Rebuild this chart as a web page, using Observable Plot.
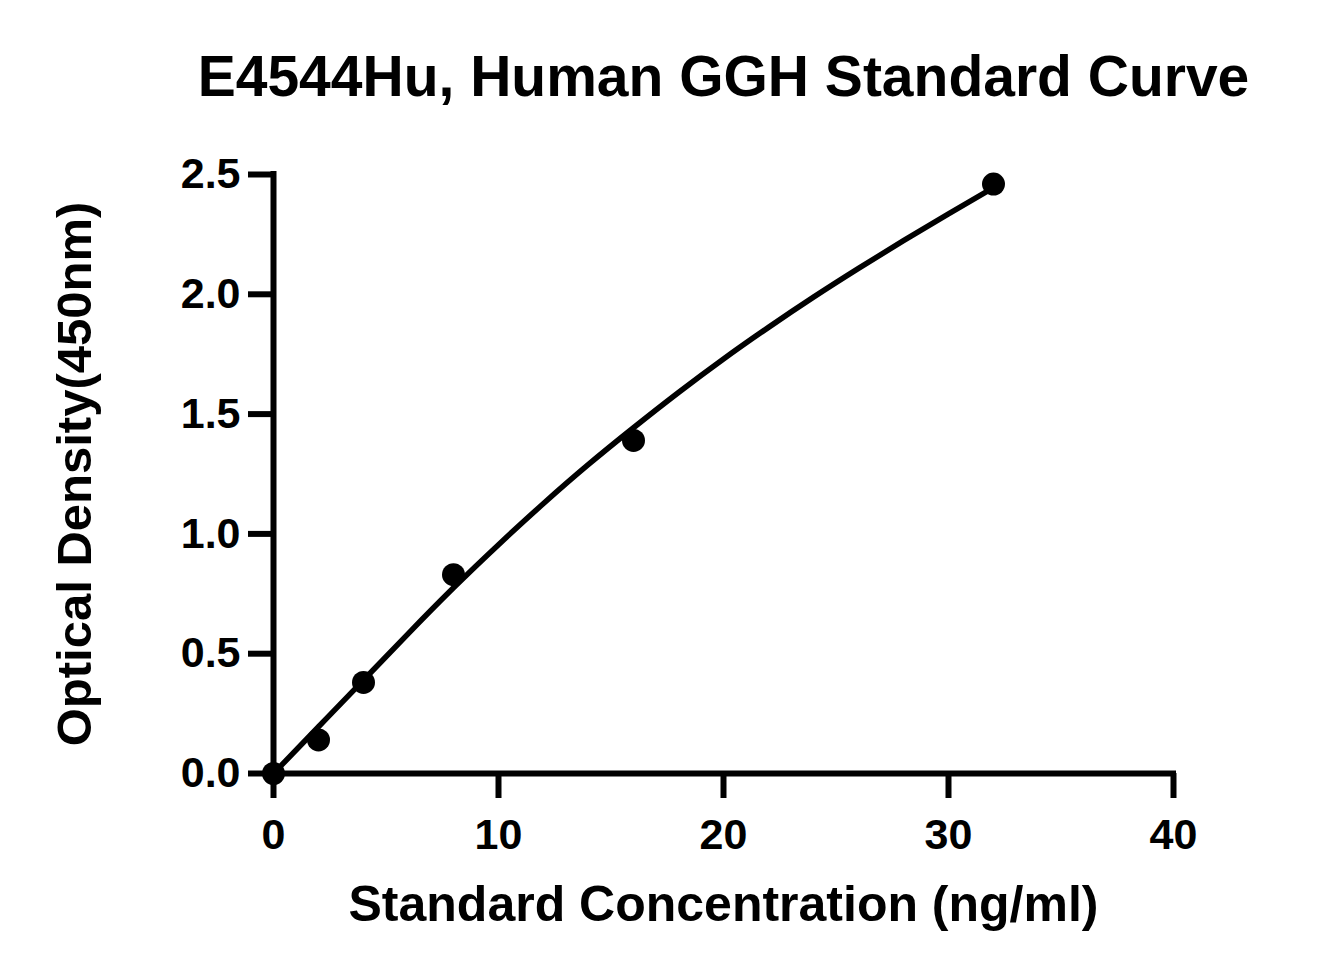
<!DOCTYPE html>
<html>
<head>
<meta charset="utf-8">
<script src="https://cdn.jsdelivr.net/npm/d3@7"></script>
<script src="https://cdn.jsdelivr.net/npm/@observablehq/plot@0.6"></script>
<style>
  html, body { margin: 0; padding: 0; background: #fff; }
  svg { font-family: "Liberation Sans", Arial, sans-serif; }
</style>
</head>
<body>
<div id="chart"></div>
<script>
// Standard points
const concentrations = [0, 2, 4, 8, 16, 32];
const odValues = [0.0, 0.14, 0.38, 0.83, 1.39, 2.46];

// Fitted curve
const curveX = [0, 2, 4, 6, 8, 10, 12, 14, 16, 18, 20, 22, 24, 26, 28, 30, 32];
const curveY = [0, 0.195, 0.39, 0.585, 0.775, 0.955, 1.127, 1.29, 1.443, 1.59, 1.73, 1.862, 1.988, 2.108, 2.224, 2.336, 2.445];

const xTicks = [0, 10, 20, 30, 40];
const yTicks = [0, 0.5, 1.0, 1.5, 2.0, 2.5];

const titleText = "E4544Hu, Human GGH Standard Curve";
const xTitle = "Standard Concentration (ng/ml)";
const yTitle = "Optical Density(450nm)";

const points = concentrations.map((c, i) => ({x: c, y: odValues[i]}));
const curve = curveX.map((c, i) => ({x: c, y: curveY[i]}));

const chart = Plot.plot({
  width: 1320,
  height: 975,
  marginLeft: 273,
  marginRight: 147,
  marginTop: 174,
  marginBottom: 202,
  x: {domain: [0, 40]},
  y: {domain: [0, 2.5]},
  marks: [
    Plot.axisX({ticks: xTicks, tickSize: 25, tickPadding: 20, strokeWidth: 6,
      fontSize: 43, fontWeight: "bold", label: null, tickFormat: d3.format("d")}),
    Plot.axisY({ticks: yTicks, tickSize: 25, tickPadding: 8, strokeWidth: 6,
      fontSize: 43, fontWeight: "bold", label: null, tickFormat: d3.format(".1f")}),
    Plot.ruleX([0], {y1: 0, y2: 2.5, strokeWidth: 6, strokeLinecap: "square"}),
    Plot.ruleY([0], {x1: 0, x2: 40, strokeWidth: 6, strokeLinecap: "square"}),
    Plot.line(curve, {x: "x", y: "y", curve: "natural", strokeWidth: 5.5}),
    Plot.dot(points, {x: "x", y: "y", r: 11.5, fill: "black", stroke: "none"}),
    Plot.text([titleText], {text: d => d, frameAnchor: "top", dy: -79, lineAnchor: "bottom",
      fontSize: 57, fontWeight: "bold", fill: "black"}),
    Plot.text([xTitle], {text: d => d, frameAnchor: "bottom", dy: 147, lineAnchor: "bottom",
      fontSize: 50, fontWeight: "bold", fill: "black"}),
    Plot.text([yTitle], {text: d => d, frameAnchor: "left", dx: -183, rotate: -90, lineAnchor: "bottom",
      textAnchor: "middle", fontSize: 49, fontWeight: "bold", fill: "black"})
  ]
});
document.getElementById("chart").appendChild(chart);
</script>
</body>
</html>
